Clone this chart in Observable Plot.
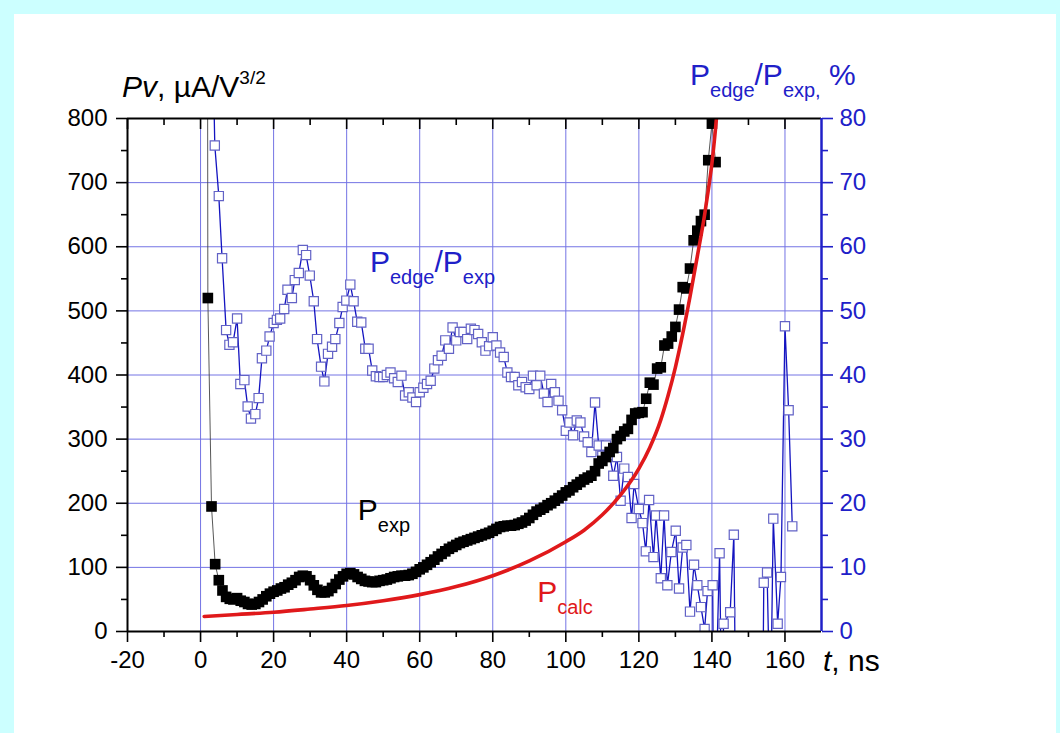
<!DOCTYPE html>
<html><head><meta charset="utf-8">
<script src="https://cdn.jsdelivr.net/npm/d3@7"></script>
<script src="https://cdn.jsdelivr.net/npm/@observablehq/plot@0.6"></script>
<style>
html,body{margin:0;padding:0;background:#ccffff;width:1060px;height:733px;overflow:hidden;}
#sheet{position:absolute;left:14px;top:14px;width:1042px;height:719px;background:#ffffff;}
#chart{position:absolute;left:0;top:0;}
</style></head>
<body><div id="sheet"></div><div id="chart"></div>
<script>
// ---------- data ----------
// P_exp (left axis, µA/V^3/2)
const expT = [1.8,2,3,4,5,6,7,8,9,10,11,12,13,14,15,16,17,18,19,20,21,22,23,24,25,26,27,28,29,30,31,32,33,34,35,36,37,38,39,40,41,42,43,44,45,46,47,48,49,50,51,52,53,54,55,56,57,58,59,60,61,62,63,64,65,66,67,68,69,70,71,72,73,74,75,76,77,78,79,80,81,82,83,84,85,86,87,88,89,90,91,92,93,94,95,96,97,98,99,100,101,102,103,104,105,106,107,108,109,110,111,112,113,114,115,116,117,118,119,120,121,122,123,124,125,126,127,128,129,130,131,132,133,134,135,136,137,138,139,140,141];
const expV = [1500,520,195,105,80,64,54,51,50,52,48,46,43,42,43,46,50,55,59,62,64,67,69,73,76,80,85,87,86,80,72,65,61,61,63,68,74,81,86,90,91,89,85,82,79,78,77,77,79,80,81,83,85,86,87,87,88,90,93,97,100,104,108,112,117,121,125,129,132,135,138,140,142,144,146,148,150,152,154,157,160,163,164,165,165,166,168,170,173,177,182,187,190,193,197,200,204,208,212,217,220,225,229,233,237,240,243,250,262,266,272,280,286,300,305,312,316,330,340,341,342,363,388,385,410,412,446,449,460,475,502,537,535,566,610,625,640,650,735,792,732];
// P_calc (left axis)
const calcT = [1,10,20,30,40,50,60,70,80,90,100,105,110,115,120,123,126,128,130,132,134,136,138,139,140,141,142];
const calcV = [23.5,26.5,30,35,40.5,48,57.5,70,87,110,140,158,182,213,254,287,330,368,412,464,522,585,650,688,730,785,850];
// P_edge/P_exp (right axis, %)
const edgeT = [2.9,3.9,5,5.9,7,7.9,8.9,10,10.9,12,12.9,13.8,15,15.9,16.8,18,18.9,20,20.9,21.8,22.9,23.8,25,25.8,26.9,28,28.9,29.9,31,31.9,33,33.9,34.9,36,36.9,38,38.9,39.9,41,41.9,42.9,44,45.1,46,47,48,49,50,51,52,53,54,55,56,57,58,59,60,61,62,63,64,65,66,67,68,69,70,71,72,73,74,75,76,77,78,79,80,81,82,83,84,85,86,87,88,89,90,91,92,93,94,95,96,97,98,99,100,101,102,103,104,105,106,107,108,109,110,111,112,113,114,115,116,117,118,118.7,120,121,121.9,122.8,124,124.7,126,126.9,127.8,128.9,130.1,131,132,133,134,135.1,136,137,138,138.8,140.2,140.6,142.1,142.6,143.2,145,146,147,153.5,154.2,155.1,156,156.8,158,158.9,160,161,162];
const edgeP = [105,75.8,67.9,58.2,47,44.7,45.1,48.8,38.6,39.2,35.1,33.2,33.9,36.4,42.6,43.8,46,48.1,48.6,48.8,50.3,53.3,52,54.8,55.9,59.5,58.7,55.5,51.5,45.6,41.3,39,43.3,44.4,45.6,48.1,50.6,51.6,54.1,51.5,48.3,48.2,44.1,44.1,40.7,39.8,39.7,39.7,40,40.4,39.5,38.9,39.9,36.8,37.3,36.5,35.8,37.3,38,38.6,39.1,41,42.3,43,45.4,44.1,47.4,45.4,46.7,46.7,45.6,47.2,47,46.4,45.1,43.8,44.5,45.9,44.6,43.5,42.8,40.4,39.7,39.7,38.4,38.9,38.1,37.8,39.9,38.4,39.9,37.1,35.8,38.6,37.3,36,34.5,31.3,32.6,30.6,32.9,32.6,30.4,29.5,28,35.7,29,27.4,29,27.5,24.3,27.2,20.4,25.4,24.1,17.7,23,19.1,16.9,12.5,20.5,11.6,18.1,8.3,18.1,7.2,12.4,15.7,6.7,13.1,13.5,3.1,10.4,7.2,3.8,0.4,6.3,7.2,-20,12.2,-10,1.2,3,15.1,-40,-40,7.6,9.2,-15,17.6,1.2,8.5,47.6,34.5,16.4];

// axis ticks
const xMajor = [-20,0,20,40,60,80,100,120,140,160];
const xMinor = [-10,10,30,50,70,90,110,130,150];
const yMajor = [0,100,200,300,400,500,600,700,800];
const yMinor = [50,150,250,350,450,550,650,750];
const pctMajor = [0,10,20,30,40,50,60,70,80];
const pctMinor = [5,15,25,35,45,55,65,75];
const pctFactor = 10; // 80 % on the right axis aligns with 800 on the left

// annotation labels: [text, role]
const notes = [
  {t: 46.5, v: 560, color: "#2020c8", parts: [["P",""],["edge","sub"],["/P",""],["exp","sub"]]},
  {t: 43.2, v: 173, color: "#000000", parts: [["P",""],["exp","sub"]]},
  {t: 92.3, v: 45,  color: "#e0191b", parts: [["P",""],["calc","sub"]]}
];

// ---------- chart ----------
const FONT = "'Liberation Sans', Arial, Helvetica, sans-serif";
const BLUE = "#2020c8";
const GRID = "#7474e4";
const RED = "#e0191b";
const TICKFONT = 24;

const exp = expT.map((t, i) => ({t, v: expV[i]}));
const calc = calcT.map((t, i) => ({t, v: calcV[i]}));
const edge = edgeT.map((t, i) => ({t, v: edgeP[i] * pctFactor}));
const plain = d => String(d);

const chart = Plot.plot({
  width: 1060, height: 733,
  marginLeft: 127, marginRight: 239, marginTop: 118, marginBottom: 102,
  x: {domain: [-20, 170]},
  y: {domain: [0, 800]},
  style: {background: "transparent", fontFamily: FONT, fontSize: TICKFONT + "px", color: "black", overflow: "visible"},
  marks: [
    Plot.gridX(xMajor.filter(d => d > -20), {stroke: GRID, strokeOpacity: 1, strokeWidth: 1}),
    Plot.gridY(yMajor.filter(d => d > 0 && d < 800), {stroke: GRID, strokeOpacity: 1, strokeWidth: 1}),
    Plot.line(edge, {x: "t", y: "v", stroke: "#1414c0", strokeWidth: 1.3, clip: true}),
    Plot.dot(edge, {x: "t", y: "v", symbol: "square", r: 5.2, fill: "white", stroke: "#6262c6", strokeWidth: 1.2, clip: true}),
    Plot.line(exp, {x: "t", y: "v", stroke: "#444", strokeWidth: 0.9, clip: true}),
    Plot.dot(exp, {x: "t", y: "v", symbol: "square", r: 6, fill: "black", stroke: "none", clip: true}),
    Plot.line(calc, {x: "t", y: "v", stroke: RED, strokeWidth: 3.6, curve: "monotone-x", clip: true}),
    // frame
    Plot.ruleY([0, 800], {stroke: "black", strokeWidth: 2}),
    Plot.ruleX([-20], {stroke: "black", strokeWidth: 2}),
    Plot.ruleX([170], {stroke: BLUE, strokeWidth: 2.5}),
    // axes
    Plot.axisX(xMajor, {anchor: "bottom", tickSize: 11, tickPadding: 8, strokeWidth: 1.6, fontSize: TICKFONT, tickFormat: plain, label: null}),
    Plot.axisX(xMinor, {anchor: "bottom", tickSize: 6, strokeWidth: 1.6, tickFormat: () => "", label: null}),
    Plot.axisX(xMajor, {anchor: "top", tickSize: 10, dy: 10, strokeWidth: 1.6, tickFormat: () => "", label: null}),
    Plot.axisX(xMinor, {anchor: "top", tickSize: 6, dy: 6, strokeWidth: 1.6, tickFormat: () => "", label: null}),
    Plot.axisY(yMajor, {anchor: "left", tickSize: 11, tickPadding: 9, strokeWidth: 1.6, fontSize: TICKFONT, tickFormat: plain, label: null}),
    Plot.axisY(yMinor, {anchor: "left", tickSize: 6, strokeWidth: 1.6, tickFormat: () => "", label: null}),
    Plot.axisY(pctMajor.map(p => p * pctFactor), {anchor: "right", tickSize: 11, tickPadding: 7, strokeWidth: 1.6, fontSize: TICKFONT, color: BLUE, tickFormat: d => String(d / pctFactor), label: null}),
    Plot.axisY(pctMinor.map(p => p * pctFactor), {anchor: "right", tickSize: 6, strokeWidth: 1.6, color: BLUE, tickFormat: () => "", label: null})
  ]
});
document.getElementById("chart").appendChild(chart);

const svg = d3.select(chart);
// make sure tick labels use the intended size
svg.selectAll("g[aria-label$='tick label']").attr("font-size", TICKFONT).selectAll("text").attr("font-size", TICKFONT);

// ---------- rich text (sub/superscripts) ----------
const xs = chart.scale("x"), ys = chart.scale("y");
function rich(x, y, parts, color, size, small, shift) {
  const t = svg.append("text").attr("x", x).attr("y", y).attr("fill", color)
    .attr("text-anchor", "start")
    .attr("font-family", FONT).attr("font-size", size).style("white-space", "pre");
  let cur = 0;
  for (const [txt, role, ital] of parts) {
    const target = role === "sub" ? shift : role === "sup" ? -shift : 0;
    t.append("tspan").attr("dy", target - cur)
      .attr("font-size", role ? small : size)
      .attr("font-style", ital ? "italic" : null)
      .text(txt);
    cur = target;
  }
  return t;
}
for (const n of notes) rich(xs.apply(n.t), ys.apply(n.v), n.parts, n.color, 30, 20, 12);

// axis titles
rich(xs.apply(-20) - 5, ys.apply(800) - 21,
  [["Pv", "", true], [", \u00b5A/V", ""], ["3/2", "sup"]], "black", 30, 19, 13);
rich(xs.apply(170) - 131, ys.apply(800) - 33,
  [["P", ""], ["edge", "sub"], ["/P", ""], ["exp,", "sub"], [" %", ""]], BLUE, 30, 20, 12);
rich(xs.apply(170) + 2, ys.apply(0) + 40,
  [["t", "", true], [", ns", ""]], "black", 30, 20, 0);
</script>
</body></html>
